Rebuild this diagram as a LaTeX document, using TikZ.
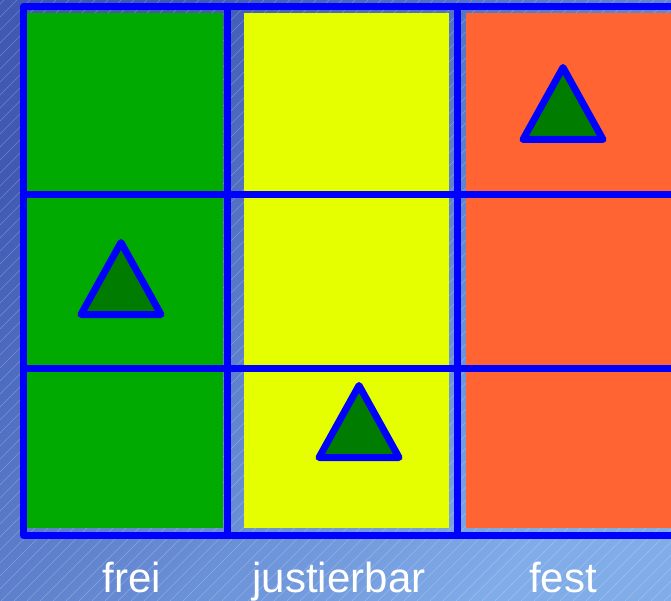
\documentclass[tikz,border=0pt]{standalone}
\usepackage{fontspec}
\setmainfont{Liberation Sans}
\usepackage{tikz}
\usetikzlibrary{calc}

\definecolor{bgtop}{RGB}{64,90,180}
\definecolor{bgbot}{RGB}{128,172,232}
\definecolor{gridblue}{RGB}{0,0,255}
\definecolor{cellgreen}{RGB}{0,170,0}
\definecolor{cellyellow}{RGB}{230,255,0}
\definecolor{cellorange}{RGB}{255,100,50}
\definecolor{trigreen}{RGB}{0,125,0}

\begin{document}
\begin{tikzpicture}[x=1pt,y=-1pt,
	gridline/.style={gridblue,line width=7pt,line cap=round,line join=round},
	marker/.style={draw=gridblue,fill=trigreen,line width=7pt,line join=round},
	label/.style={text=white,font=\fontsize{42}{48}\selectfont,anchor=base}]
		
		%----------------------------------------
		% Background
		%----------------------------------------
		\useasboundingbox (0,0) rectangle (671,601);
		\shade[top color=bgtop,bottom color=bgbot,shading angle=45] (0,0) rectangle (671,601);
		\begin{scope}
			\clip (0,0) rectangle (671,601);
			\foreach \k in {-610,-597,...,680}
			\draw[white,opacity=0.25,line width=0.5pt] (\k,601) -- ({\k+601},0);
		\end{scope}
		
		%----------------------------------------
		% Columns
		%----------------------------------------
		\fill[cellgreen] (27,13) rectangle (223,528);
		\fill[cellyellow] (244,13) rectangle (449,528);
		\fill[cellorange] (466,13) rectangle (671,528);
		
		%----------------------------------------
		% Grid
		%----------------------------------------
		\coordinate (TL) at (23.5,6.5);
		\coordinate (BL) at (23.5,535.5);
		\coordinate (TR) at (675,6.5);
		\coordinate (BR) at (675,535.5);
		
		\draw[gridline] (TR) -- (TL) -- (BL) -- (BR);
		\draw[gridline] (227.5,6.5) -- (227.5,535.5);
		\draw[gridline] (457,6.5) -- (457,535.5);
		\draw[gridline] (23.5,195) -- (675,195);
		\draw[gridline] (23.5,368.5) -- (675,368.5);
		
		%----------------------------------------
		% Triangles (base centre)
		%----------------------------------------
		\coordinate (T1) at (563,139.5);
		\coordinate (T2) at (121,314.5);
		\coordinate (T3) at (359,457.5);
		
		\foreach \t in {T1,T2,T3}
		\draw[marker] ($(\t)+(-40,0)$) -- ($(\t)+(0,-72)$) -- ($(\t)+(40,0)$) -- cycle;
		
		%----------------------------------------
		% Labels
		%----------------------------------------
		\node[label] (frei) at (132,592) {frei};
		\node[label] (justierbar) at (339,592) {justierbar};
		\node[label] (fest) at (563,592) {fest};
		
	\end{tikzpicture}
\end{document}
